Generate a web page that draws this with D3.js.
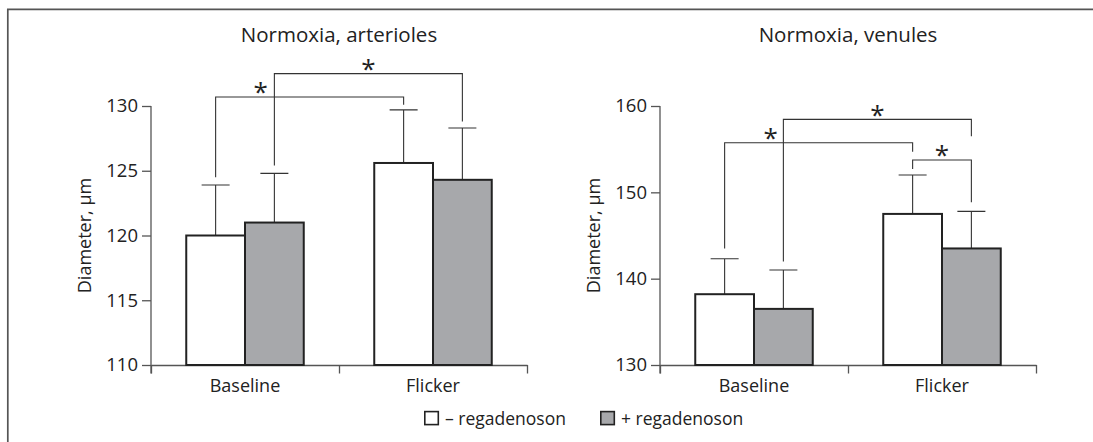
<!DOCTYPE html>
<html>
<head>
<meta charset="utf-8">
<script src="https://cdn.jsdelivr.net/npm/d3@7"></script>
<style>
  html, body { margin: 0; padding: 0; background: #fff; }
  svg { display: block; }
  text { font-family: "Open Sans", "DejaVu Sans", sans-serif; fill: #222; }
</style>
</head>
<body>
<svg id="chart" width="1093" height="442"></svg>
<script>
// ---------------- data ----------------
const categories = ["Baseline", "Flicker"];
const seriesNames = ["– regadenoson", "+ regadenoson"];
const yAxisLabel = "Diameter, µm";

const arteriolesMinus = [120.0, 125.6];
const arteriolesMinusSD = [3.9, 4.1];
const arteriolesPlus = [121.0, 124.3];
const arteriolesPlusSD = [3.8, 4.0];
const arteriolesTicks = [110, 115, 120, 125, 130];

const venulesMinus = [138.2, 147.5];
const venulesMinusSD = [4.1, 4.5];
const venulesPlus = [136.5, 143.5];
const venulesPlusSD = [4.5, 4.3];
const venulesTicks = [130, 140, 150, 160];

// significance brackets: [category, series] endpoints, bracket level and drop ends (data units)
const arteriolesBrackets = [
  { a: [0, 0], b: [1, 0], level: 130.7, endA: 124.5, endB: 130.1, star: 0.24 },
  { a: [0, 1], b: [1, 1], level: 132.5, endA: 125.4, endB: 128.8, star: 0.5 }
];
const venulesBrackets = [
  { a: [0, 0], b: [1, 0], level: 155.75, endA: 143.5, endB: 154.7, star: 0.245 },
  { a: [0, 1], b: [1, 1], level: 158.45, endA: 142.0, endB: 156.5, star: 0.5 },
  { a: [1, 0], b: [1, 1], level: 153.75, endA: 152.7, endB: 148.85, star: 0.5 }
];

const panels = [
  { title: "Normoxia, arterioles", left: 151, domain: [110, 130], ticks: arteriolesTicks,
    means: [arteriolesMinus, arteriolesPlus], sds: [arteriolesMinusSD, arteriolesPlusSD], brackets: arteriolesBrackets },
  { title: "Normoxia, venules", left: 660, domain: [130, 160], ticks: venulesTicks,
    means: [venulesMinus, venulesPlus], sds: [venulesMinusSD, venulesPlusSD], brackets: venulesBrackets }
];

// ---------------- layout ----------------
const W = 1093, H = 442;
const plotW = 376, plotTop = 106, plotBottom = 365;
const fills = ["#ffffff", "#a7a8ab"];
const ink = "#222";
const axisColor = "#555";

const svg = d3.select("#chart");

// outer frame (top + left lines)
svg.append("path")
  .attr("d", `M7.8,${H} L7.8,9.3 L${W},9.3`)
  .attr("fill", "none").attr("stroke", "#555").attr("stroke-width", 1.7);

panels.forEach(p => {
  const g = svg.append("g").attr("transform", `translate(${p.left},0)`);
  const x0 = d3.scaleBand().domain(categories).range([0, plotW]).paddingInner(0).paddingOuter(0);
  const x1 = d3.scaleBand().domain([0, 1]).range([0, x0.bandwidth()]).paddingInner(0).paddingOuter(0.6);
  const y = d3.scaleLinear().domain(p.domain).range([plotBottom, plotTop]);
  const xb = d3.scaleLinear().domain([0, categories.length]).range([0, plotW]);

  // title
  g.append("text").attr("x", plotW / 2).attr("y", 42)
    .attr("text-anchor", "middle").style("font-size", "20.5px").text(p.title);

  // y axis label
  g.append("text").attr("transform", `translate(-60,${(plotTop + plotBottom) / 2}) rotate(-90)`)
    .attr("text-anchor", "middle").style("font-size", "18px").text(yAxisLabel);

  // y axis
  const yAxis = g.append("g").call(
    d3.axisLeft(y).tickValues(p.ticks).tickSize(9).tickSizeOuter(0).tickPadding(4).tickFormat(d3.format("d"))
  );
  yAxis.select(".domain").attr("stroke", axisColor).attr("stroke-width", 1.3)
    .attr("d", `M0,${plotTop}V${plotBottom + 8.5}`);
  yAxis.selectAll(".tick line").attr("stroke", axisColor).attr("stroke-width", 1.3);
  yAxis.selectAll(".tick text").style("font-size", "18.5px").attr("fill", ink).attr("font-family", null);

  // x axis (boundary ticks)
  const xAxis = g.append("g").attr("transform", `translate(0,${plotBottom})`).call(
    d3.axisBottom(xb).tickValues(d3.range(categories.length + 1)).tickSize(8.5).tickSizeOuter(0).tickFormat("")
  );
  xAxis.select(".domain").attr("stroke", axisColor).attr("stroke-width", 1.3);
  xAxis.selectAll(".tick line").attr("stroke", axisColor).attr("stroke-width", 1.3);

  // category labels
  g.selectAll(".cat").data(categories).enter().append("text")
    .attr("x", d => x0(d) + x0.bandwidth() / 2).attr("y", 391.5)
    .attr("text-anchor", "middle").style("font-size", "18px").text(d => d);

  // bars + error bars
  const cells = [];
  categories.forEach((c, ci) => [0, 1].forEach(s => cells.push({ c, ci, s, v: p.means[s][ci], sd: p.sds[s][ci] })));
  const cx = d => x0(d.c) + x1(d.s) + x1.bandwidth() / 2;
  const capW = 28;

  g.selectAll(".err").data(cells).enter().append("path")
    .attr("d", d => `M${cx(d)},${y(d.v)}V${y(d.v + d.sd)}M${cx(d) - capW / 2},${y(d.v + d.sd)}H${cx(d) + capW / 2}`)
    .attr("fill", "none").attr("stroke", "#333").attr("stroke-width", 1.1);

  g.selectAll(".bar").data(cells).enter().append("rect")
    .attr("x", d => x0(d.c) + x1(d.s)).attr("width", x1.bandwidth())
    .attr("y", d => y(d.v)).attr("height", d => y(p.domain[0]) - y(d.v))
    .attr("fill", d => fills[d.s]).attr("stroke", ink).attr("stroke-width", 2);

  // significance brackets
  const px = e => x0(categories[e[0]]) + x1(e[1]) + x1.bandwidth() / 2;
  p.brackets.forEach(b => {
    const xa = px(b.a), xB = px(b.b), yl = y(b.level);
    g.append("path")
      .attr("d", `M${xa},${y(b.endA)}V${yl}H${xB}V${y(b.endB)}`)
      .attr("fill", "none").attr("stroke", "#333").attr("stroke-width", 1.1);
    g.append("text").attr("x", xa + (xB - xa) * b.star).attr("y", yl + 4.5)
      .attr("text-anchor", "middle").style("font-size", "26px").text("*");
  });
});

// legend
const legend = svg.append("g").attr("transform", "translate(424,411)");
const items = legend.selectAll(".item").data(seriesNames).enter().append("g")
  .attr("transform", (d, i) => `translate(${i * 176},0)`);
items.append("rect").attr("x", 0.8).attr("y", 0.6).attr("width", 13.5).attr("height", 13)
  .attr("fill", (d, i) => fills[i]).attr("stroke", ink).attr("stroke-width", 1.6);
items.append("text").attr("x", 21).attr("y", 13.5).style("font-size", "17.5px").text(d => d);
</script>
</body>
</html>
